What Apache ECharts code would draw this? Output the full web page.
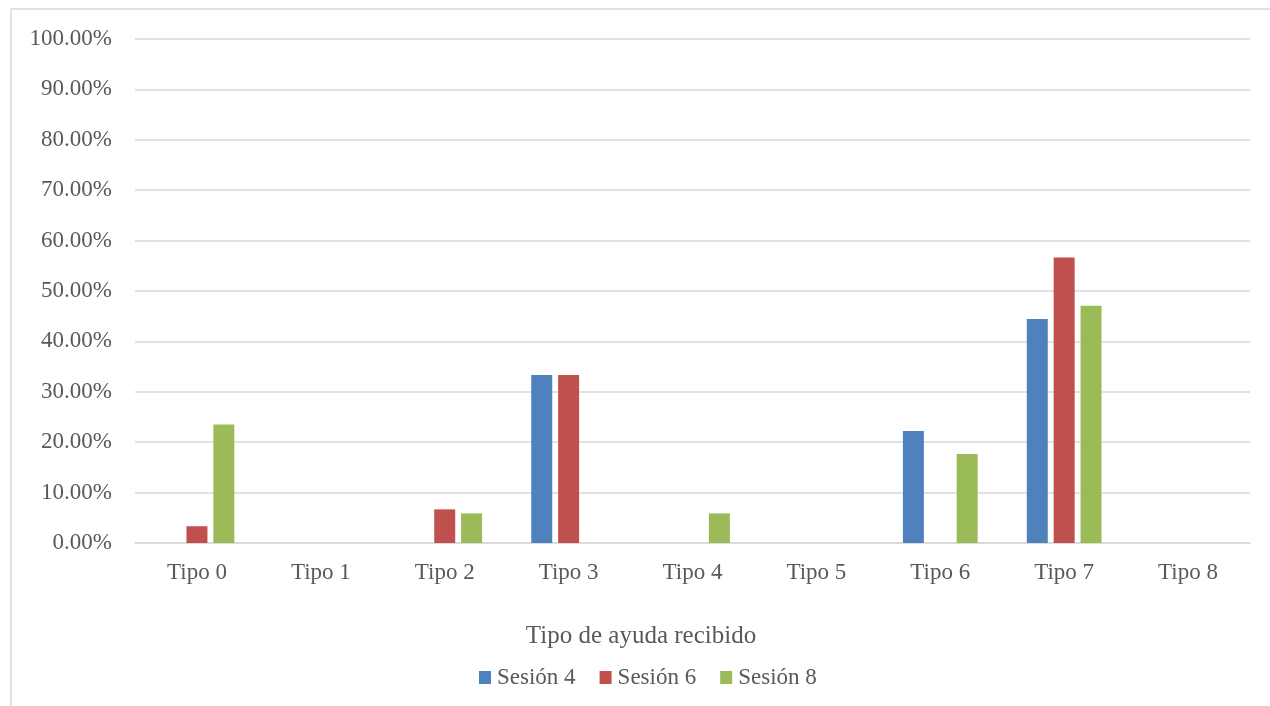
<!DOCTYPE html>
<html>
<head>
<meta charset="utf-8">
<script src="https://cdn.jsdelivr.net/npm/echarts@6/dist/echarts.min.js"></script>
<style>html,body{margin:0;padding:0;background:#fff;}#c{width:1270px;height:706px;}</style>
</head>
<body>
<div id="c"></div>
<script>
const categories = ['Tipo 0','Tipo 1','Tipo 2','Tipo 3','Tipo 4','Tipo 5','Tipo 6','Tipo 7','Tipo 8'];
const sesion4 = [0, 0, 0, 33.33, 0, 0, 22.22, 44.44, 0];
const sesion6 = [3.33, 0, 6.67, 33.33, 0, 0, 0, 56.67, 0];
const sesion8 = [23.53, 0, 5.88, 0, 5.88, 0, 17.65, 47.06, 0];
const seriesNames = ['Sesión 4','Sesión 6','Sesión 8'];
const colors = ['#4F81BD','#C0504D','#9BBB59'];
const axisTitle = 'Tipo de ayuda recibido';

const font = '"Liberation Serif", "Times New Roman", serif';
const chart = echarts.init(document.getElementById('c'), null, {renderer:'canvas'});
const mk = (name, data, color) => ({
  name, type:'bar', data, barWidth:21, barGap:'28%',
  itemStyle:{color},
  emphasis:{disabled:true}
});
chart.setOption({
  animation:false,
  backgroundColor:'#fff',
  graphic:[
    {type:'rect', shape:{x:11, y:9, width:1400, height:900}, style:{fill:'none', stroke:'#d9d9d9', lineWidth:1.5}, silent:true},
    {type:'text', x:641, y:636, silent:true, style:{text:axisTitle, font:'25px ' + font, fill:'#595959', align:'center', verticalAlign:'middle'}}
  ],
  grid:{left:135, right:20, top:39, bottom:163, containLabel:false},
  xAxis:{type:'category', data:categories,
    axisLine:{lineStyle:{color:'#d9d9d9', width:1.5}}, axisTick:{show:false},
    axisLabel:{fontFamily:font, fontSize:23, color:'#595959', margin:18}},
  yAxis:{type:'value', min:0, max:100, interval:10,
    axisLine:{show:false}, axisTick:{show:false},
    splitLine:{lineStyle:{color:'#d9d9d9', width:1.5}},
    axisLabel:{fontFamily:font, fontSize:23, color:'#595959', margin:23, formatter:v=>v.toFixed(2)+'%'}},
  legend:{bottom:12, left:474, itemWidth:12, itemHeight:13, itemGap:24,
    icon:'rect', textStyle:{fontFamily:font, fontSize:23, color:'#595959', padding:[0,0,0,1]},
    data:seriesNames},
  series:[mk(seriesNames[0], sesion4, colors[0]), mk(seriesNames[1], sesion6, colors[1]), mk(seriesNames[2], sesion8, colors[2])]
});
</script>
</body>
</html>
